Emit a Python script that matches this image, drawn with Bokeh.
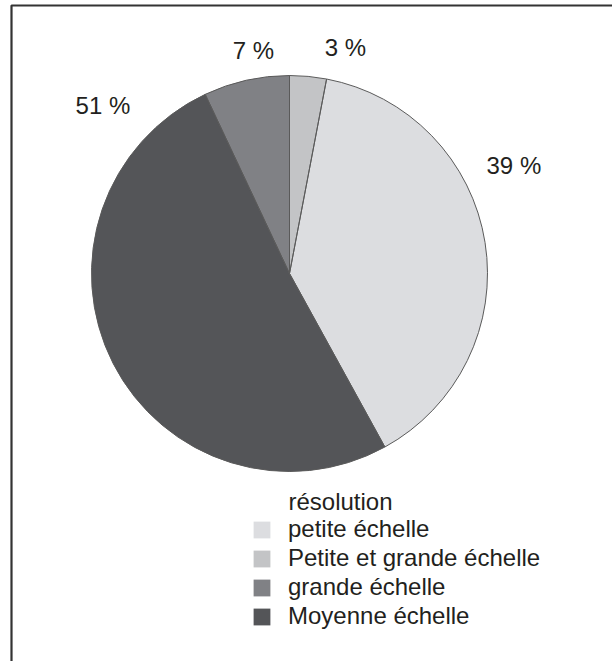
import math
from bokeh.plotting import figure
from bokeh.models import ColumnDataSource, Legend, LegendItem, Label
from bokeh.core.properties import value
from bokeh.embed import file_html
from bokeh.resources import INLINE

# ---- data (clockwise from 12 o'clock) ----
categories = ["Petite et grande échelle", "petite échelle", "Moyenne échelle", "grande échelle"]
shares = [3, 39, 51, 7]
labels = ["3 %", "39 %", "51 %", "7 %"]
colors = ["#c3c4c6", "#dcdde0", "#545558", "#808185"]
legend_order = ["petite échelle", "Petite et grande échelle", "grande échelle", "Moyenne échelle"]
legend_title = "résolution"

W, H = 612, 661
FONT = "Liberation Sans"
FS = "24px"
TXT = "#231f20"

p = figure(width=W, height=H, x_range=(0, W), y_range=(0, H),
           output_backend="svg", toolbar_location=None, min_border=0)
p.axis.visible = False
p.grid.visible = False
p.outline_line_color = None
p.background_fill_color = "white"

# frame (top and left edges only, as in the reference)
p.line([11, 11, W + 10], [-10, H - 5, H - 5], line_color="#333333", line_width=2.2)

cx, cy, r = 289, H - 273, 198
total = float(sum(shares))
starts, ends = [], []
cum = 0.0
for s in shares:
    a0 = math.pi / 2 - 2 * math.pi * (cum + s) / total
    a1 = math.pi / 2 - 2 * math.pi * cum / total
    starts.append(a0)
    ends.append(a1)
    cum += s

src = ColumnDataSource(dict(cat=categories, share=shares, start=starts, end=ends, color=colors))
wr = p.wedge(x=cx, y=cy, radius=r, start_angle="start", end_angle="end",
             fill_color="color", line_color=None, source=src)
p.wedge(x=cx, y=cy, radius=r, start_angle="start", end_angle="end",
        fill_color=None, line_color="#5a5a5a", line_width=1, source=src)

# label placement (layout): angle clockwise from top in degrees, distance from center
label_angle = [13.9, 64.3, -48.0, -9.2]
label_dist = [233, 249, 251, 226]
lx = [cx + d * math.sin(math.radians(a)) for a, d in zip(label_angle, label_dist)]
ly = [cy + d * math.cos(math.radians(a)) for a, d in zip(label_angle, label_dist)]
p.text(x=lx, y=ly, text=labels, text_font=value(FONT), text_font_size=FS,
       text_color=TXT, text_align="center", text_baseline="middle")

items = [LegendItem(label=name, renderers=[wr], index=categories.index(name)) for name in legend_order]
legend = Legend(items=items, location=(251, 31),
                label_text_font=FONT, label_text_font_size=FS, label_text_color=TXT,
                glyph_width=21, glyph_height=21, label_standoff=16,
                label_height=20, spacing=1, padding=0, margin=0,
                border_line_color=None, background_fill_alpha=0)
p.add_layout(legend, "center")
p.add_layout(Label(x=288, y=H - 501, text=legend_title, text_font=FONT, text_font_size=FS,
                   text_color=TXT, text_baseline="middle"))

open("out.html", "w").write(file_html(p, INLINE))
